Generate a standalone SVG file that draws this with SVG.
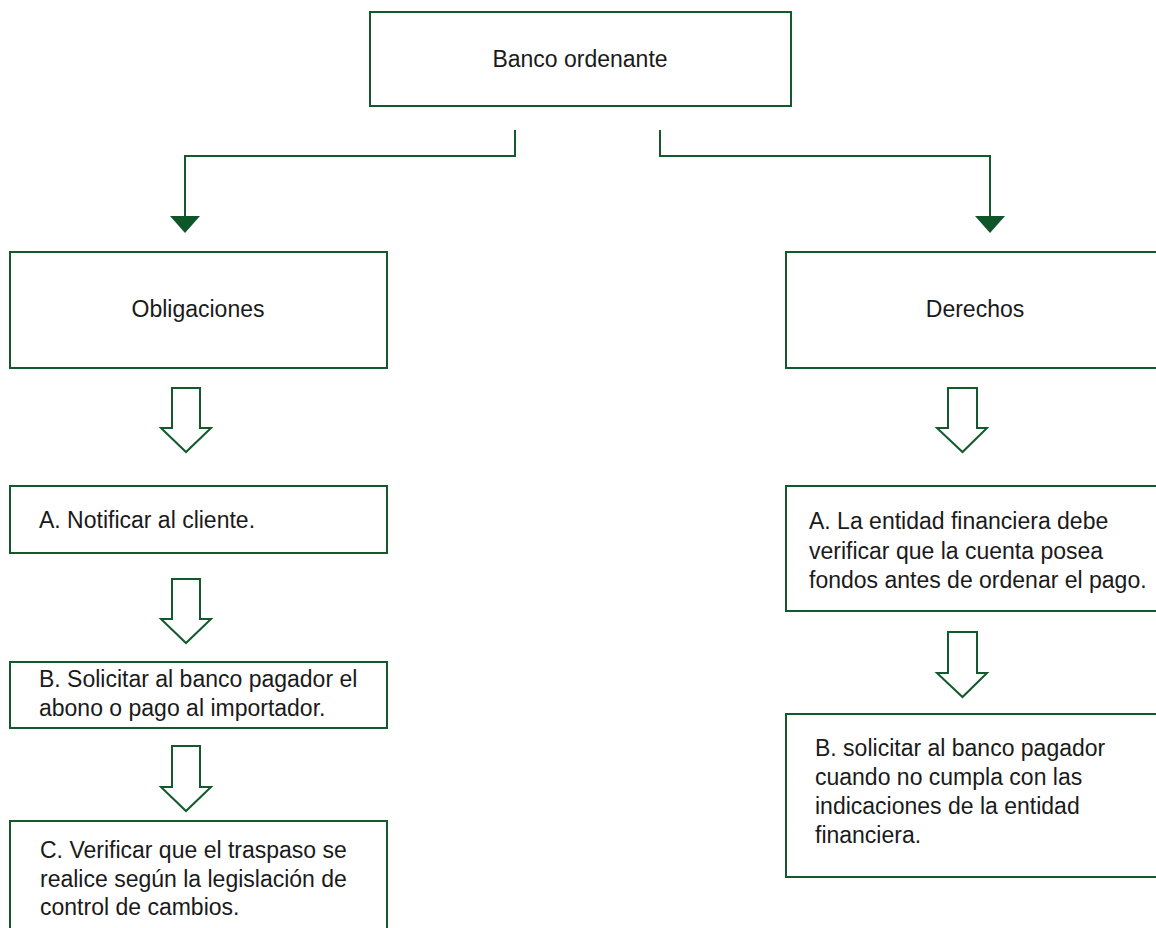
<svg xmlns="http://www.w3.org/2000/svg" width="1156" height="928" viewBox="0 0 1156 928">
<defs>
<style>
.box{fill:#fff;stroke:#125a2c;stroke-width:2}
.t{font-family:"Liberation Sans",Arial,sans-serif;font-size:23px;fill:#1a1a1a}
.c{text-anchor:middle}
.ln{fill:none;stroke:#125a2c;stroke-width:2}
.head{fill:#0f552a}
.hollow{fill:#fff;stroke:#125a2c;stroke-width:2;stroke-linejoin:miter}
</style>
</defs>
<rect width="1156" height="928" fill="#fff"/>
<g id="connectors">
<path class="ln" d="M515,130 V156 H185 V218"/>
<polygon class="head" points="170,216 200,216 185,233"/>
<path class="ln" d="M660,130 V156 H990 V218"/>
<polygon class="head" points="975,216 1005,216 990,233"/>
<polygon class="hollow" points="172,388 200,388 200,428 211,428 186,452 161,428 172,428"/>
<polygon class="hollow" points="172,579 200,579 200,619 211,619 186,643 161,619 172,619"/>
<polygon class="hollow" points="172,746 200,746 200,787 211,787 186,811 161,787 172,787"/>
<polygon class="hollow" points="948,388 977,388 977,428 987,428 962.5,452 937,428 948,428"/>
<polygon class="hollow" points="948,632 977,632 977,673 987,673 962.5,697 937,673 948,673"/>
</g>
<g id="banco">
<rect class="box" x="370" y="12" width="421" height="94"/>
<text class="t c" x="580" y="67">Banco ordenante</text>
</g>
<g id="obligaciones">
<rect class="box" x="10" y="252" width="377" height="116"/>
<text class="t c" x="198" y="317">Obligaciones</text>
</g>
<g id="derechos">
<rect class="box" x="786" y="252" width="380" height="116"/>
<text class="t c" x="975" y="317">Derechos</text>
</g>
<g id="oblig-a">
<rect class="box" x="10" y="486" width="377" height="67"/>
<text class="t" x="39" y="528">A. Notificar al cliente.</text>
</g>
<g id="oblig-b">
<rect class="box" x="10" y="662" width="377" height="66"/>
<text class="t" x="39" y="687">B. Solicitar al banco pagador el</text>
<text class="t" x="39" y="716">abono o pago al importador.</text>
</g>
<g id="oblig-c">
<rect class="box" x="10" y="821" width="377" height="120"/>
<text class="t" x="40" y="858">C. Verificar que el traspaso se</text>
<text class="t" x="40" y="887">realice según la legislación de</text>
<text class="t" x="40" y="915">control de cambios.</text>
</g>
<g id="der-a">
<rect class="box" x="786" y="486" width="380" height="125"/>
<text class="t" x="809" y="529">A. La entidad financiera debe</text>
<text class="t" x="809" y="559">verificar que la cuenta posea</text>
<text class="t" x="809" y="588">fondos antes de ordenar el pago.</text>
</g>
<g id="der-b">
<rect class="box" x="786" y="714" width="380" height="163"/>
<text class="t" x="815" y="756">B. solicitar al banco pagador</text>
<text class="t" x="815" y="785">cuando no cumpla con las</text>
<text class="t" x="815" y="814">indicaciones de la entidad</text>
<text class="t" x="815" y="843">financiera.</text>
</g>
</svg>
